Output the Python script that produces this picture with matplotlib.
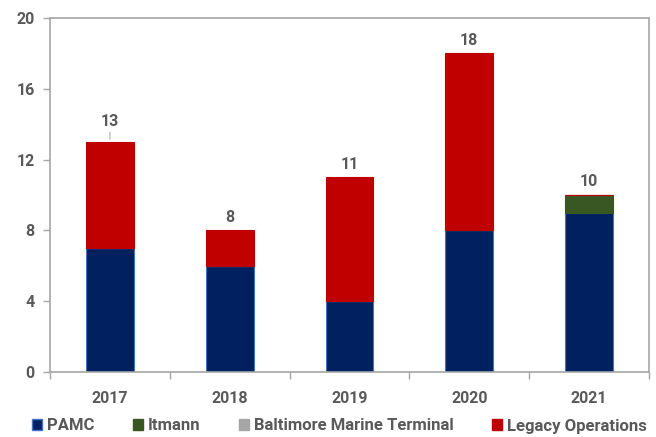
import matplotlib
matplotlib.use("Agg")
import matplotlib.pyplot as plt
import numpy as np
from matplotlib.patches import Patch

plt.rcParams['font.family'] = ['Roboto', 'DejaVu Sans']

years = ["2017", "2018", "2019", "2020", "2021"]
pamc = [7, 6, 4, 8, 9]
itmann = [0, 0, 0, 0, 1]
baltimore = [0, 0, 0, 0, 0]
legacy = [6, 2, 7, 10, 0]
series_names = ["PAMC", "Itmann", "Baltimore Marine Terminal", "Legacy Operations"]
colors = ["#002060", "#385723", "#A6A6A6", "#C00000"]
y_ticks = [0, 4, 8, 12, 16, 20]

text_color = "#595959"
axis_color = "#A6A6A6"

fig = plt.figure(figsize=(6.56, 4.37), dpi=100)
ax = fig.add_axes([50 / 656, 65 / 437, 599 / 656, 354 / 437])

x = np.arange(len(years))
width = 0.4
bottom = np.zeros(len(years))
for vals, c, name in zip([pamc, itmann, baltimore, legacy], colors, series_names):
    v = np.array(vals, dtype=float)
    ec = "#4472C4" if name == "PAMC" else c
    ax.bar(x, v, width, bottom=bottom, color=c, edgecolor=ec, linewidth=0.8, label=name, zorder=2)
    bottom += v

totals = bottom
for xi, t in zip(x, totals):
    if t == 13:
        ax.annotate(f"{int(t)}", xy=(xi, t), xytext=(0, 9), textcoords="offset points",
                    ha="center", va="bottom", fontsize=11.5, color=text_color, fontweight="bold",
                    arrowprops=dict(arrowstyle="-", color="#BFBFBF", lw=1, shrinkA=0, shrinkB=2))
    else:
        ax.annotate(f"{int(t)}", xy=(xi, t), xytext=(0, 4), textcoords="offset points",
                    ha="center", va="bottom", fontsize=11.5, color=text_color, fontweight="bold")

ax.set_xlim(-0.5, len(years) - 0.5)
ax.set_ylim(0, 20)
ax.set_yticks(y_ticks)
ax.set_yticklabels([str(v) for v in y_ticks], fontsize=11.5, color=text_color, fontweight="bold")
ax.set_xticks(x)
ax.set_xticklabels(years, fontsize=11.5, color=text_color, fontweight="bold")
ax.tick_params(axis="x", length=0, pad=14)
ax.set_xticks(np.arange(-0.5, len(years)), minor=True)
ax.tick_params(axis="x", which="minor", length=5, color=axis_color, width=1)
ax.tick_params(axis="y", length=5, color=axis_color, width=1, pad=6)

for s in ax.spines.values():
    s.set_color(axis_color)
    s.set_linewidth(1.2)

handles = [Patch(facecolor=c, edgecolor=("#4472C4" if n == "PAMC" else c), label=n)
           for c, n in zip(colors, series_names)]
fig.legend(handles=handles, loc="center", bbox_to_anchor=(0.517, 11 / 437), ncol=4, frameon=False,
           handlelength=0.6, handleheight=0.6, handletextpad=0.3, columnspacing=2.3,
           labelcolor=text_color, prop={"weight": "bold", "size": 12})

fig.savefig("out.png", dpi=100)
